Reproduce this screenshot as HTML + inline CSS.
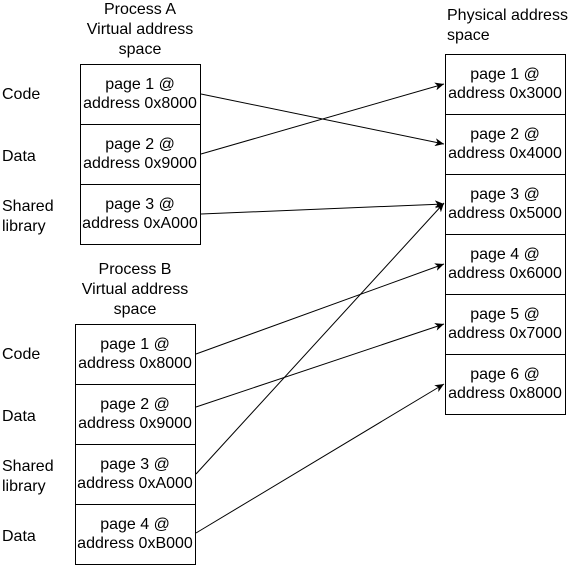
<!DOCTYPE html>
<html><head><style>html,body{margin:0;padding:0;background:#fff}</style></head>
<body>
<svg width="587" height="565" viewBox="0 0 587 565" xmlns="http://www.w3.org/2000/svg" font-family="Liberation Sans, Arial, sans-serif" font-size="16" fill="#000">
<defs><marker id="a" markerWidth="10" markerHeight="8" refX="9" refY="4" orient="auto" markerUnits="userSpaceOnUse"><path d="M0,0 L9,4 L0,8 L2.5,4 z" fill="#000"/></marker></defs>
<g text-anchor="middle">
<text x="140" y="14">Process A</text><text x="140" y="34">Virtual address</text><text x="140" y="54">space</text>
<text x="135" y="274">Process B</text><text x="135" y="294">Virtual address</text><text x="135" y="314">space</text>
</g>
<text x="447" y="20">Physical address</text><text x="447" y="40">space</text>
<g fill="none" stroke="#000" stroke-width="1">
<rect x="80.5" y="64.5" width="120" height="180"/><line x1="80" y1="124.5" x2="201" y2="124.5"/><line x1="80" y1="184.5" x2="201" y2="184.5"/>
<rect x="75.5" y="324.5" width="120" height="240"/><line x1="75" y1="384.5" x2="196" y2="384.5"/><line x1="75" y1="444.5" x2="196" y2="444.5"/><line x1="75" y1="504.5" x2="196" y2="504.5"/>
<rect x="445.5" y="54.5" width="120" height="360"/>
<line x1="445" y1="114.5" x2="566" y2="114.5"/><line x1="445" y1="174.5" x2="566" y2="174.5"/><line x1="445" y1="234.5" x2="566" y2="234.5"/><line x1="445" y1="294.5" x2="566" y2="294.5"/><line x1="445" y1="354.5" x2="566" y2="354.5"/>
<g marker-end="url(#a)">
<line x1="201" y1="94" x2="444" y2="144"/>
<line x1="201" y1="154" x2="444" y2="84"/>
<line x1="201" y1="214" x2="444" y2="204"/>
<line x1="196" y1="354" x2="444" y2="264"/>
<line x1="196" y1="407" x2="444" y2="324"/>
<line x1="196" y1="474" x2="444" y2="203"/>
<line x1="196" y1="533" x2="444" y2="384"/>
</g></g>
<g text-anchor="middle">
<text x="140" y="89">page 1 @</text><text x="140" y="108">address 0x8000</text>
<text x="140" y="149">page 2 @</text><text x="140" y="168">address 0x9000</text>
<text x="140" y="209">page 3 @</text><text x="140" y="228">address 0xA000</text>
<text x="135" y="349">page 1 @</text><text x="135" y="368">address 0x8000</text>
<text x="135" y="409">page 2 @</text><text x="135" y="428">address 0x9000</text>
<text x="135" y="469">page 3 @</text><text x="135" y="488">address 0xA000</text>
<text x="135" y="529">page 4 @</text><text x="135" y="548">address 0xB000</text>
<text x="505" y="79">page 1 @</text><text x="505" y="98">address 0x3000</text>
<text x="505" y="139">page 2 @</text><text x="505" y="158">address 0x4000</text>
<text x="505" y="199">page 3 @</text><text x="505" y="218">address 0x5000</text>
<text x="505" y="259">page 4 @</text><text x="505" y="278">address 0x6000</text>
<text x="505" y="319">page 5 @</text><text x="505" y="338">address 0x7000</text>
<text x="505" y="379">page 6 @</text><text x="505" y="398">address 0x8000</text>
</g>
<text x="2" y="99">Code</text><text x="2" y="161">Data</text><text x="2" y="211">Shared</text><text x="2" y="231">library</text>
<text x="2" y="359">Code</text><text x="2" y="421">Data</text><text x="2" y="471">Shared</text><text x="2" y="491">library</text><text x="2" y="541">Data</text>
</svg>
</body></html>
